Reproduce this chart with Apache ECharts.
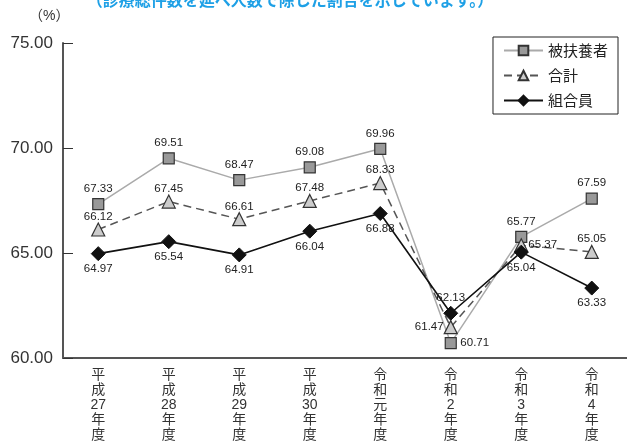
<!DOCTYPE html>
<html><head><meta charset="utf-8">
<script src="https://cdn.jsdelivr.net/npm/echarts@6/dist/echarts.min.js"></script>
<style>html,body{margin:0;padding:0;background:#fff}#c{width:627px;height:443px}</style>
</head><body><div id="c"></div>
<script>
const categories = ['平\n成\n27\n年\n度','平\n成\n28\n年\n度','平\n成\n29\n年\n度','平\n成\n30\n年\n度','令\n和\n元\n年\n度','令\n和\n2\n年\n度','令\n和\n3\n年\n度','令\n和\n4\n年\n度'];
const dependents = [67.33,69.51,68.47,69.08,69.96,60.71,65.77,67.59];
const total = [66.12,67.45,66.61,67.48,68.33,61.47,65.37,65.05];
const members = [64.97,65.54,64.91,66.04,66.88,62.13,65.04,63.33];
const dependentsPos = ['top','top','top','top','top','right','top','top'];
const totalPos = ['top','top','top','top','top','left','right','top'];
const membersPos = ['bottom','bottom','bottom','bottom','bottom','top','bottom','bottom'];

const FONT = '"Liberation Sans", "Noto Sans CJK JP", sans-serif';
function mk(vals, pos){ return vals.map((v,i)=>({value:v, label:{position:pos[i]}})); }
function lbl(d){ return {show:true, fontSize:11.5, color:'#222', fontFamily:FONT, distance:d, formatter:p=>p.value.toFixed(2)}; }

const chart = echarts.init(document.getElementById('c'));
chart.setOption({
  animation:false,
  textStyle:{fontFamily:FONT},
  grid:{left:63, right:0, top:43, bottom:83},
  graphic:[
    {type:'text', left:29, top:9, style:{text:'（%）', fontSize:14, fill:'#333', fontFamily:FONT}},
    {type:'text', x:290, y:0, style:{text:'（診療総件数を延べ人数で除した割合を示しています。）', fontSize:16, fontWeight:'bold', fill:'#1ea0e6', fontFamily:'"Noto Sans CJK JP", sans-serif', align:'center', verticalAlign:'middle'}}
  ],
  legend:{
    right:9, top:37, orient:'vertical', itemGap:10, itemWidth:39, itemHeight:12,
    padding:[6,10,6,10], borderColor:'#222', borderWidth:1, backgroundColor:'#fff',
    textStyle:{fontSize:15, color:'#222', fontFamily:'"Noto Sans CJK JP", sans-serif'},
    data:['被扶養者','合計','組合員']
  },
  xAxis:{
    type:'category', data:categories, boundaryGap:true,
    axisLine:{lineStyle:{color:'#555', width:2}},
    axisTick:{inside:true, alignWithLabel:true, length:8, lineStyle:{color:'#333'}},
    axisLabel:{fontSize:14, color:'#333', lineHeight:15, margin:10, interval:0, fontFamily:FONT}
  },
  yAxis:{
    type:'value', min:60, max:75, interval:5,
    axisLine:{show:true, lineStyle:{color:'#555', width:2}},
    axisTick:{show:true, inside:true, length:10, lineStyle:{color:'#333'}},
    splitLine:{show:false},
    axisLabel:{fontSize:17, color:'#333', margin:10, formatter:v=>v.toFixed(2), fontFamily:FONT}
  },
  series:[
    {name:'被扶養者', type:'line', data:mk(dependents,dependentsPos), symbol:'rect', symbolSize:11,
     lineStyle:{color:'#aaa', width:1.5}, itemStyle:{color:'#999', borderColor:'#333', borderWidth:1.2},
     label:lbl(3.5), z:2},
    {name:'合計', type:'line', data:mk(total,totalPos), symbol:'triangle', symbolSize:13,
     lineStyle:{color:'#555', width:1.5, type:[8,5]}, itemStyle:{color:'#ccc', borderColor:'#333', borderWidth:1.2},
     label:lbl(0), z:3},
    {name:'組合員', type:'line', data:mk(members,membersPos), symbol:'diamond', symbolSize:14,
     lineStyle:{color:'#111', width:1.6}, itemStyle:{color:'#111', borderColor:'#111', borderWidth:1},
     label:lbl(2), z:4}
  ]
});
</script></body></html>
